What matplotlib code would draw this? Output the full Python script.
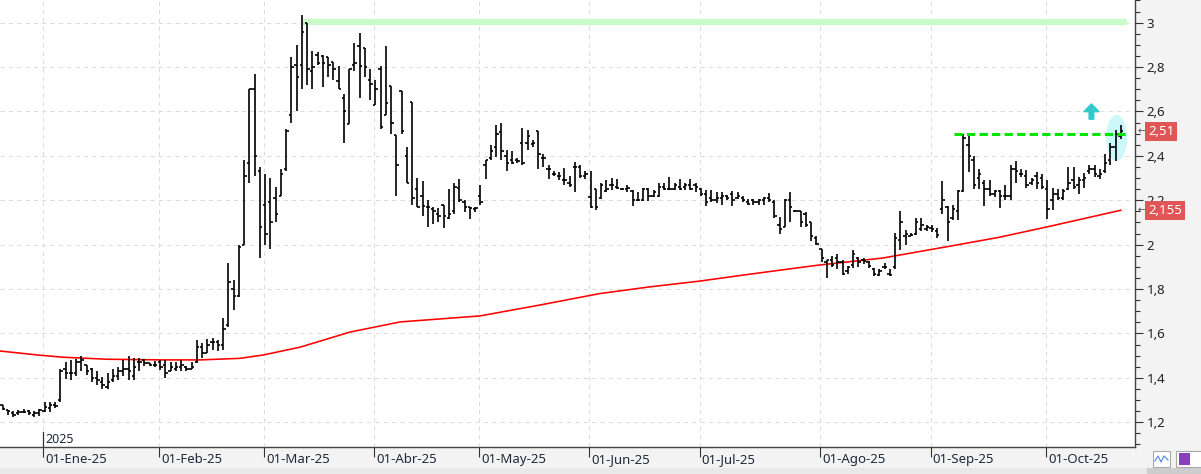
import numpy as np
import matplotlib.pyplot as plt
from matplotlib.patches import Ellipse, Rectangle
from matplotlib.ticker import MultipleLocator, FuncFormatter

plt.rcParams['font.family'] = ['Noto Sans', 'DejaVu Sans']

# trading days shown per month (Dec-24 tail ... Oct-25 so far)
bars_per_month = [8, 22, 20, 21, 20, 21, 21, 23, 21, 22, 15]
month_labels = ['01-Ene-25', '01-Feb-25', '01-Mar-25', '01-Abr-25', '01-May-25',
                '01-Jun-25', '01-Jul-25', '01-Ago-25', '01-Sep-25', '01-Oct-25']

opens = [1.28, 1.255, 1.24, 1.24, 1.245, 1.25, 1.235, 1.24,
         1.25, 1.265, 1.28, 1.30, 1.44, 1.42, 1.42, 1.47, 1.46, 1.44, 1.40, 1.38, 1.36, 1.39, 1.41, 1.43, 1.44, 1.41, 1.47, 1.48, 1.465, 1.46,
         1.47, 1.46, 1.43, 1.44, 1.45, 1.45, 1.44, 1.47, 1.54, 1.51, 1.56, 1.56, 1.55, 1.64, 1.80, 1.77, 2.0, 2.37, 2.70, 2.33,
         2.18, 2.19, 2.21, 2.22, 2.34, 2.585, 2.81, 2.81, 3.0, 2.78, 2.855, 2.85, 2.844, 2.825, 2.735, 2.66, 2.544, 2.81, 2.895, 2.885, 2.742,
         2.63, 2.79, 2.585, 2.715, 2.494, 2.694, 2.40, 2.644, 2.25, 2.217, 2.17, 2.16, 2.14, 2.18, 2.12, 2.15, 2.256, 2.19, 2.17, 2.16,
         2.22, 2.357, 2.39, 2.44, 2.507, 2.40, 2.38, 2.38, 2.457, 2.457, 2.455, 2.51, 2.39, 2.34, 2.32, 2.31, 2.29, 2.28, 2.35, 2.35, 2.31,
         2.214, 2.25, 2.21, 2.24, 2.27, 2.26, 2.25, 2.25, 2.24, 2.20, 2.20, 2.25, 2.22, 2.22, 2.26, 2.25, 2.25, 2.26, 2.26, 2.27, 2.27,
         2.25, 2.23, 2.21, 2.20, 2.21, 2.22, 2.23, 2.21, 2.21, 2.19, 2.20, 2.19, 2.20, 2.21, 2.19, 2.09, 2.08, 2.20, 2.15, 2.15, 2.14, 2.10, 2.03,
         1.98, 1.92, 1.93, 1.94, 1.92, 1.88, 1.91, 1.94, 1.93, 1.92, 1.89, 1.865, 1.90, 1.87, 1.90, 2.02, 2.04, 2.04, 2.05, 2.07, 2.07,
         2.075, 2.06, 2.16, 2.17, 2.12, 2.15, 2.24, 2.45, 2.38, 2.30, 2.28, 2.25, 2.23, 2.24, 2.22, 2.22, 2.34, 2.32, 2.31, 2.28, 2.31, 2.30,
         2.25, 2.20, 2.23, 2.21, 2.25, 2.29, 2.27, 2.29, 2.33, 2.34, 2.31, 2.33, 2.38, 2.44, 2.49]

highs = [1.28, 1.255, 1.25, 1.255, 1.26, 1.255, 1.25, 1.26,
         1.29, 1.29, 1.29, 1.44, 1.47, 1.48, 1.485, 1.50, 1.46, 1.445, 1.43, 1.405, 1.42, 1.44, 1.45, 1.48, 1.50, 1.49, 1.49, 1.485, 1.465, 1.475,
         1.48, 1.48, 1.47, 1.47, 1.48, 1.455, 1.47, 1.57, 1.555, 1.575, 1.58, 1.57, 1.67, 1.918, 1.84, 2.0, 2.38, 2.70, 2.77, 2.35,
         2.32, 2.30, 2.26, 2.34, 2.52, 2.844, 2.90, 3.035, 3.0, 2.874, 2.87, 2.855, 2.844, 2.825, 2.805, 2.68, 2.79, 2.907, 2.952, 2.885, 2.79,
         2.742, 2.805, 2.895, 2.715, 2.494, 2.694, 2.44, 2.644, 2.30, 2.285, 2.20, 2.17, 2.165, 2.18, 2.25, 2.28, 2.297, 2.20, 2.17, 2.17,
         2.27, 2.38, 2.45, 2.54, 2.547, 2.425, 2.42, 2.39, 2.526, 2.517, 2.47, 2.51, 2.41, 2.36, 2.334, 2.327, 2.346, 2.31, 2.372, 2.36, 2.334,
         2.33, 2.25, 2.28, 2.29, 2.30, 2.297, 2.252, 2.267, 2.245, 2.237, 2.256, 2.256, 2.248, 2.277, 2.277, 2.307, 2.277, 2.296, 2.28, 2.296, 2.28,
         2.256, 2.248, 2.248, 2.237, 2.237, 2.222, 2.242, 2.237, 2.218, 2.207, 2.207, 2.207, 2.215, 2.233, 2.20, 2.123, 2.207, 2.237, 2.156, 2.153, 2.148, 2.104, 2.037,
         1.98, 1.933, 1.95, 1.96, 1.933, 1.904, 1.974, 1.945, 1.941, 1.926, 1.897, 1.892, 1.919, 1.889, 2.052, 2.153, 2.067, 2.052, 2.12, 2.12, 2.09,
         2.09, 2.074, 2.285, 2.172, 2.177, 2.247, 2.50, 2.50, 2.40, 2.342, 2.29, 2.29, 2.247, 2.245, 2.267, 2.357, 2.377, 2.342, 2.335, 2.30, 2.327, 2.32,
         2.29, 2.257, 2.252, 2.252, 2.35, 2.35, 2.307, 2.322, 2.36, 2.357, 2.342, 2.41, 2.457, 2.517, 2.54]

lows = [1.255, 1.235, 1.225, 1.235, 1.24, 1.235, 1.225, 1.23,
        1.245, 1.245, 1.265, 1.29, 1.395, 1.39, 1.41, 1.43, 1.415, 1.38, 1.37, 1.35, 1.35, 1.38, 1.39, 1.41, 1.39, 1.39, 1.43, 1.455, 1.455, 1.45,
        1.435, 1.40, 1.43, 1.43, 1.43, 1.43, 1.44, 1.465, 1.49, 1.51, 1.525, 1.52, 1.525, 1.63, 1.705, 1.765, 2.0, 2.28, 2.31, 1.94,
        2.0, 1.98, 2.10, 2.22, 2.33, 2.55, 2.60, 2.70, 2.72, 2.70, 2.81, 2.71, 2.754, 2.74, 2.70, 2.46, 2.544, 2.78, 2.66, 2.754, 2.65,
        2.63, 2.52, 2.585, 2.50, 2.217, 2.50, 2.277, 2.18, 2.17, 2.127, 2.08, 2.095, 2.10, 2.076, 2.117, 2.14, 2.19, 2.147, 2.117, 2.147,
        2.177, 2.297, 2.38, 2.395, 2.38, 2.33, 2.365, 2.37, 2.36, 2.425, 2.44, 2.34, 2.35, 2.297, 2.31, 2.29, 2.27, 2.26, 2.237, 2.30, 2.297,
        2.166, 2.157, 2.207, 2.237, 2.245, 2.25, 2.247, 2.237, 2.174, 2.197, 2.197, 2.197, 2.215, 2.215, 2.245, 2.245, 2.245, 2.245, 2.245, 2.245, 2.237,
        2.218, 2.174, 2.193, 2.188, 2.178, 2.20, 2.174, 2.207, 2.193, 2.178, 2.178, 2.178, 2.178, 2.193, 2.12, 2.05, 2.079, 2.104, 2.148, 2.079, 2.079, 2.015, 2.0,
        1.92, 1.852, 1.90, 1.889, 1.862, 1.867, 1.897, 1.90, 1.911, 1.897, 1.86, 1.857, 1.889, 1.86, 1.889, 1.978, 2.0, 2.037, 2.045, 2.06, 2.06,
        2.055, 2.03, 2.14, 2.016, 2.11, 2.11, 2.237, 2.327, 2.25, 2.25, 2.172, 2.217, 2.215, 2.167, 2.20, 2.20, 2.277, 2.305, 2.257, 2.267, 2.252, 2.252,
        2.117, 2.155, 2.20, 2.20, 2.247, 2.25, 2.23, 2.257, 2.32, 2.305, 2.297, 2.322, 2.357, 2.377, 2.477]

closes = [1.26, 1.25, 1.235, 1.245, 1.245, 1.24, 1.24, 1.255,
          1.27, 1.28, 1.275, 1.43, 1.42, 1.42, 1.47, 1.48, 1.43, 1.40, 1.39, 1.37, 1.38, 1.41, 1.43, 1.44, 1.43, 1.45, 1.47, 1.465, 1.46, 1.46,
          1.45, 1.42, 1.45, 1.45, 1.46, 1.44, 1.45, 1.54, 1.51, 1.55, 1.56, 1.55, 1.62, 1.83, 1.77, 1.99, 2.31, 2.70, 2.40, 2.08,
          2.05, 2.10, 2.14, 2.32, 2.51, 2.80, 2.755, 2.96, 2.79, 2.80, 2.82, 2.82, 2.81, 2.79, 2.70, 2.60, 2.79, 2.82, 2.805, 2.80, 2.724,
          2.70, 2.53, 2.64, 2.55, 2.36, 2.51, 2.28, 2.21, 2.17, 2.175, 2.17, 2.15, 2.13, 2.13, 2.14, 2.26, 2.20, 2.17, 2.165, 2.163,
          2.19, 2.38, 2.42, 2.50, 2.42, 2.37, 2.37, 2.375, 2.37, 2.49, 2.46, 2.41, 2.39, 2.34, 2.32, 2.31, 2.29, 2.27, 2.35, 2.31, 2.32,
          2.17, 2.17, 2.27, 2.25, 2.27, 2.255, 2.25, 2.255, 2.20, 2.20, 2.25, 2.22, 2.235, 2.26, 2.25, 2.25, 2.27, 2.25, 2.27, 2.25, 2.26,
          2.23, 2.19, 2.20, 2.21, 2.22, 2.21, 2.20, 2.22, 2.20, 2.185, 2.19, 2.20, 2.21, 2.20, 2.13, 2.07, 2.20, 2.17, 2.152, 2.10, 2.09, 2.04, 2.005,
          1.94, 1.93, 1.91, 1.92, 1.87, 1.90, 1.96, 1.92, 1.925, 1.905, 1.87, 1.88, 1.90, 1.865, 2.03, 2.10, 2.05, 2.045, 2.10, 2.09, 2.08,
          2.07, 2.045, 2.20, 2.10, 2.16, 2.24, 2.48, 2.40, 2.27, 2.32, 2.25, 2.23, 2.24, 2.22, 2.22, 2.34, 2.33, 2.32, 2.27, 2.29, 2.28, 2.26,
          2.16, 2.23, 2.21, 2.24, 2.28, 2.26, 2.29, 2.30, 2.34, 2.32, 2.32, 2.37, 2.44, 2.50, 2.51]

# moving average, read at a few bar positions
ma_idx = [-0.5, 6.7, 11.5, 19.9, 30.5, 37.6, 45.2, 49.6, 56.6, 66.1, 75.7, 90.9,
          102.3, 113.8, 123.3, 132.8, 142.3, 155.1, 167.7, 180.4, 190, 199.5, 213]
ma_val = [1.521, 1.503, 1.493, 1.484, 1.481, 1.481, 1.488, 1.503, 1.538, 1.606, 1.652, 1.679,
          1.728, 1.78, 1.81, 1.836, 1.867, 1.907, 1.94, 1.993, 2.034, 2.083, 2.155]

resist_top = 3.0
resist_break = 2.50

x = np.arange(len(closes))
month_idx = np.cumsum(bars_per_month)[:-1]

W, H = 1201, 474
fig = plt.figure(figsize=(W / 100, H / 100), dpi=100)
fig.patch.set_facecolor('#f3f3f4')
ax = fig.add_axes([0, 27 / H, 1135 / W, 447 / H])
ax.set_facecolor('white')
ax.set_xlim(-0.514, 215.7)
ax.set_ylim(1.0887, 3.102)
ax.set_axisbelow(True)

# grid + axes
ax.yaxis.set_major_locator(MultipleLocator(0.2))
ax.yaxis.set_minor_locator(MultipleLocator(0.05))
ax.yaxis.set_major_formatter(FuncFormatter(
    lambda v, _: f'{v:.1f}'.rstrip('0').rstrip('.').replace('.', ',')))
ax.yaxis.tick_right()
ax.tick_params(axis='y', which='major', length=5.5, width=0.8, color='#333333',
               labelsize=9.5, labelcolor='#222222', pad=3)
ax.tick_params(axis='y', which='minor', length=3.5, width=0.8, color='#333333')
ax.set_xticks(month_idx - 0.25)
ax.tick_params(axis='x', length=7.5, width=0.8, color='#333333', labelbottom=False)
ax.grid(True, which='major', color='#dcdcdc', lw=0.75, ls=(0, (4, 4)))
for s in ['top', 'left']:
    ax.spines[s].set_visible(False)
for s in ['bottom', 'right']:
    ax.spines[s].set_color('#444444')
    ax.spines[s].set_linewidth(1.0)

for m, lab in zip(month_idx, month_labels):
    ax.annotate(lab, xy=(m - 0.25, 0), xycoords=('data', 'axes fraction'),
                xytext=(1.5, -4), textcoords='offset points', ha='left', va='top',
                fontsize=9.5, color='#1f2a3a', annotation_clip=False)

# year marker
ax.plot([month_idx[0] - 0.25] * 2, [0, 15 / 447], transform=ax.get_xaxis_transform(),
        color='#333333', lw=0.9)
ax.annotate('2025', xy=(month_idx[0] - 0.25, 0), xycoords=('data', 'axes fraction'),
            xytext=(1.2, 0.5), textcoords='offset points', ha='left', va='bottom',
            fontsize=9, color='#1f2a3a')

# highlight shapes
ax.hlines(resist_top + 0.005, 57.2, 214.2, color='#c9fbc9', lw=4.5, zorder=1.5)
ax.add_patch(Ellipse((212.2, 2.481), 4.0, 0.207, fc='#ccf8fc', ec='none', zorder=1.6))
ax.arrow(207.4, 2.565, 0, 0.069, width=0.9, head_width=2.9, head_length=0.035,
         length_includes_head=True, color='#33c9cc', zorder=3)

# moving average
ax.plot(ma_idx, ma_val, color='#ff0000', lw=1.15, zorder=2.5)

# OHLC bars
ax.vlines(x, lows, highs, color='black', lw=1.2, zorder=3)
ax.hlines(opens, x - 0.45, x, color='black', lw=1.2, zorder=3)
ax.hlines(closes, x, x + 0.45, color='black', lw=1.2, zorder=3)

ax.plot([181.2, 214.2], [resist_break] * 2, color='#00e600', lw=2.2,
        ls=(0, (2.7, 1.4)), zorder=4)

# value tags on the price axis
for v in [closes[-1], ma_val[-1]]:
    ax.annotate(f'{v:g}'.replace('.', ','), xy=(1, v), xycoords=('axes fraction', 'data'),
                xytext=(9.3, 0), textcoords='offset points', ha='left', va='center',
                fontsize=9.5, color='white', annotation_clip=False, zorder=6,
                bbox=dict(boxstyle='square,pad=0.22', fc='#e05656', ec='none'))
    ax.annotate('\u2190', xy=(1, v), xycoords=('axes fraction', 'data'),
                xytext=(1.5, 0), textcoords='offset points', ha='left', va='center',
                fontsize=7, color='#555555', annotation_clip=False,
                family=['DejaVu Sans'])

# bottom strip / buttons
fig.patches.append(Rectangle((0, 0), 1, 6 / H, transform=fig.transFigure,
                             fc='#e9e9e9', ec='none', zorder=0))
fig.patches.append(Rectangle((1147 / W, 0), 54 / W, 6 / H, transform=fig.transFigure,
                             fc='#cdcdcd', ec='none', zorder=0))
fig.patches.append(Rectangle((1153 / W, 7 / H), 17 / W, 16 / H, transform=fig.transFigure,
                             fc='white', ec='#aaaaaa', lw=0.8, zorder=1))
fig.patches.append(Rectangle((1176 / W, 7 / H), 26 / W, 16 / H, transform=fig.transFigure,
                             fc='white', ec='#aaaaaa', lw=0.8, zorder=1))
fig.patches.append(Rectangle((1179 / W, 9 / H), 11 / W, 12 / H, transform=fig.transFigure,
                             fc='#8a3fc0', ec='none', zorder=2))
fig.lines.append(plt.Line2D(np.array([1155, 1158, 1161, 1164, 1168]) / W,
                            np.array([13, 18, 12, 18, 14]) / H,
                            transform=fig.transFigure, color='#5b8fd8', lw=0.9))

fig.savefig('out.png', dpi=100, facecolor=fig.get_facecolor())
